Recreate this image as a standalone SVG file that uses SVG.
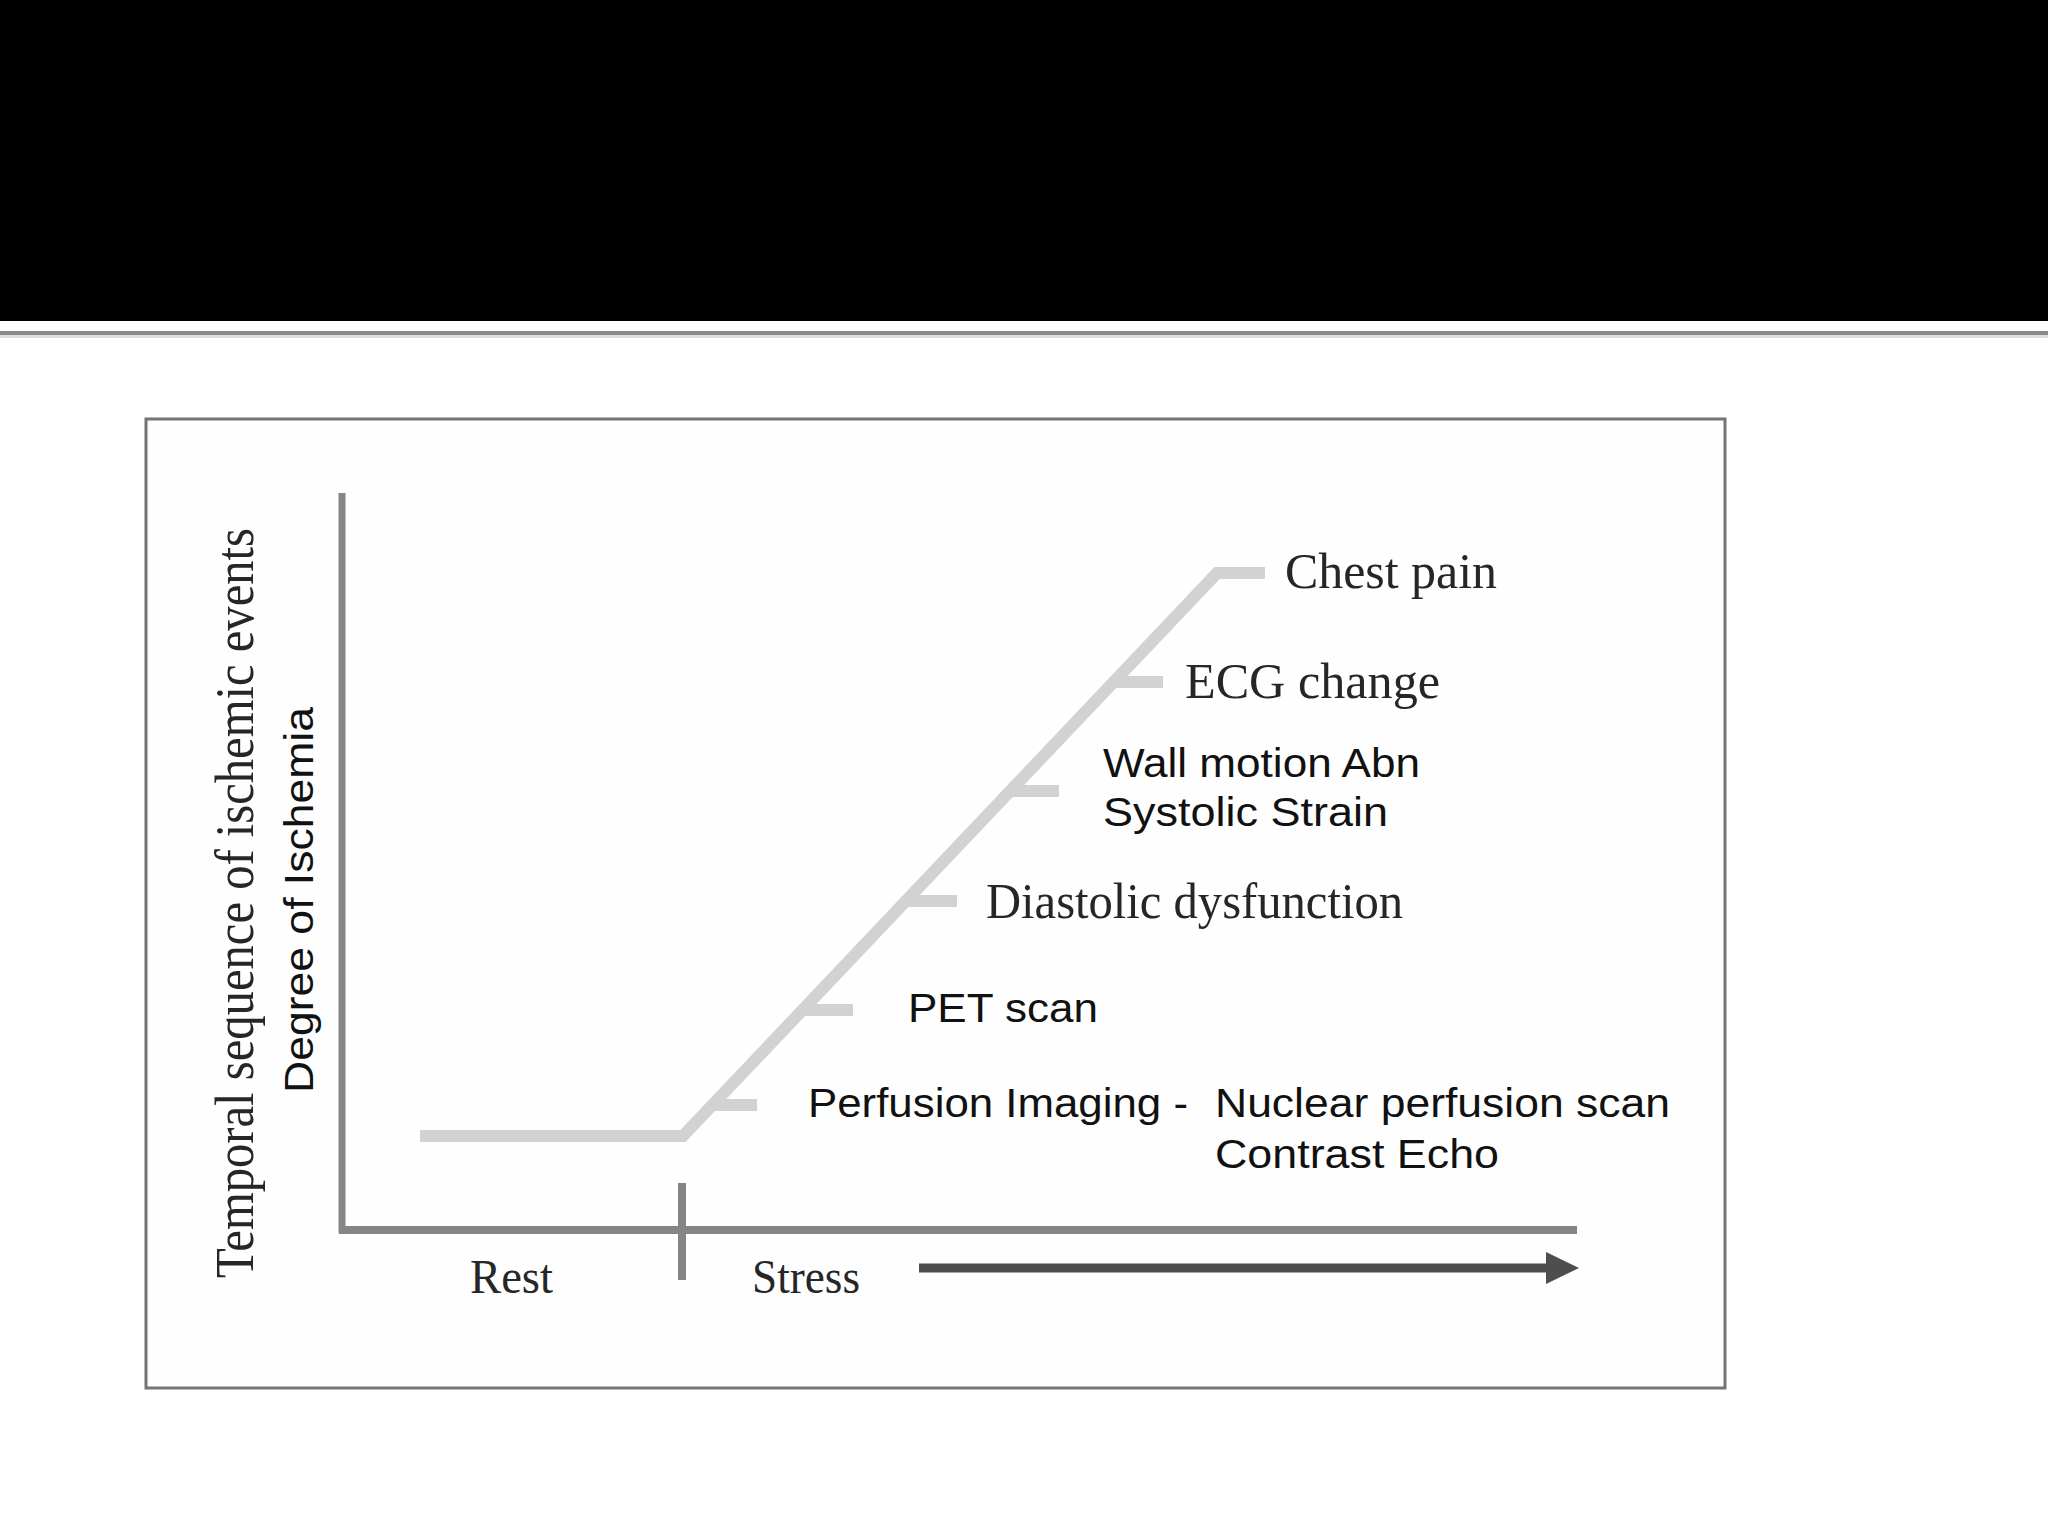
<svg xmlns="http://www.w3.org/2000/svg" width="2048" height="1536" viewBox="0 0 2048 1536">
  <style>
    .serif { font-family: "Liberation Serif", "Times New Roman", serif; fill: #262626; }
    .sans { font-family: "Liberation Sans", Arial, sans-serif; fill: #111111; }
    .axis { stroke: #858585; fill: none; stroke-linecap: butt; }
    .curve { stroke: #d2d2d2; fill: none; stroke-width: 12; stroke-linecap: butt; stroke-linejoin: miter; }
  </style>
  <defs>
    <marker id="arrowhead" markerUnits="userSpaceOnUse" markerWidth="34" markerHeight="34" refX="0" refY="16" orient="auto">
      <polygon points="0,0 33,16 0,32" fill="#4e4e4e"/>
    </marker>
  </defs>

  <rect x="0" y="0" width="2048" height="1536" fill="#ffffff"/>
  <rect x="0" y="0" width="2048" height="321" fill="#000000"/>
  <rect x="0" y="331" width="2048" height="4" fill="#8a8a8a"/>
  <rect x="0" y="335" width="2048" height="3" fill="#dddddd"/>

  <g id="frame">
    <rect x="146" y="419" width="1579" height="969" fill="#fefefe" stroke="#747474" stroke-width="3"/>
  </g>

  <g id="connectors">
    <line class="axis" x1="342" y1="493" x2="342" y2="1233" stroke-width="7"/>
    <line class="axis" x1="339" y1="1230" x2="1577" y2="1230" stroke-width="8"/>
    <line class="axis" x1="682" y1="1183" x2="682" y2="1280" stroke-width="8"/>
    <line x1="919" y1="1268" x2="1546" y2="1268" stroke="#4e4e4e" stroke-width="9" marker-end="url(#arrowhead)"/>
    <polyline class="curve" points="420,1136 683,1136 1217,573 1265,573"/>
    <line class="curve" x1="1113" y1="682" x2="1163" y2="682"/>
    <line class="curve" x1="1010" y1="791" x2="1059" y2="791"/>
    <line class="curve" x1="906" y1="901" x2="957" y2="901"/>
    <line class="curve" x1="802" y1="1010" x2="853" y2="1010"/>
    <line class="curve" x1="712" y1="1105" x2="757" y2="1105"/>
  </g>

  <g id="label-temporal">
    <text class="serif" transform="translate(253,1278) rotate(-90)" x="0" y="0" font-size="54" textLength="750" lengthAdjust="spacingAndGlyphs">Temporal sequence of ischemic events</text>
  </g>
  <g id="label-degree">
    <text class="sans" transform="translate(313,1093) rotate(-90)" x="0" y="0" font-size="41" textLength="386" lengthAdjust="spacingAndGlyphs">Degree of Ischemia</text>
  </g>

  <g id="node-chest-pain">
    <text class="serif" x="1285" y="588" font-size="51" textLength="212" lengthAdjust="spacingAndGlyphs">Chest pain</text>
  </g>
  <g id="node-ecg-change">
    <text class="serif" x="1185" y="698" font-size="51" textLength="255" lengthAdjust="spacingAndGlyphs">ECG change</text>
  </g>
  <g id="node-wall-motion">
    <text class="sans" x="1103" y="777" font-size="40" textLength="317" lengthAdjust="spacingAndGlyphs">Wall motion Abn</text>
    <text class="sans" x="1103" y="826" font-size="40" textLength="285" lengthAdjust="spacingAndGlyphs">Systolic Strain</text>
  </g>
  <g id="node-diastolic">
    <text class="serif" x="986" y="918" font-size="51" textLength="417" lengthAdjust="spacingAndGlyphs">Diastolic dysfunction</text>
  </g>
  <g id="node-pet">
    <text class="sans" x="908" y="1022" font-size="40" textLength="190" lengthAdjust="spacingAndGlyphs">PET scan</text>
  </g>
  <g id="node-perfusion">
    <text class="sans" x="808" y="1117" font-size="40" textLength="380" lengthAdjust="spacingAndGlyphs">Perfusion Imaging -</text>
    <text class="sans" x="1215" y="1117" font-size="40" textLength="455" lengthAdjust="spacingAndGlyphs">Nuclear perfusion scan</text>
    <text class="sans" x="1215" y="1168" font-size="40" textLength="284" lengthAdjust="spacingAndGlyphs">Contrast Echo</text>
  </g>
  <g id="label-rest">
    <text class="serif" x="470" y="1293" font-size="48" textLength="83" lengthAdjust="spacingAndGlyphs">Rest</text>
  </g>
  <g id="label-stress">
    <text class="serif" x="752" y="1293" font-size="48" textLength="108" lengthAdjust="spacingAndGlyphs">Stress</text>
  </g>
</svg>
